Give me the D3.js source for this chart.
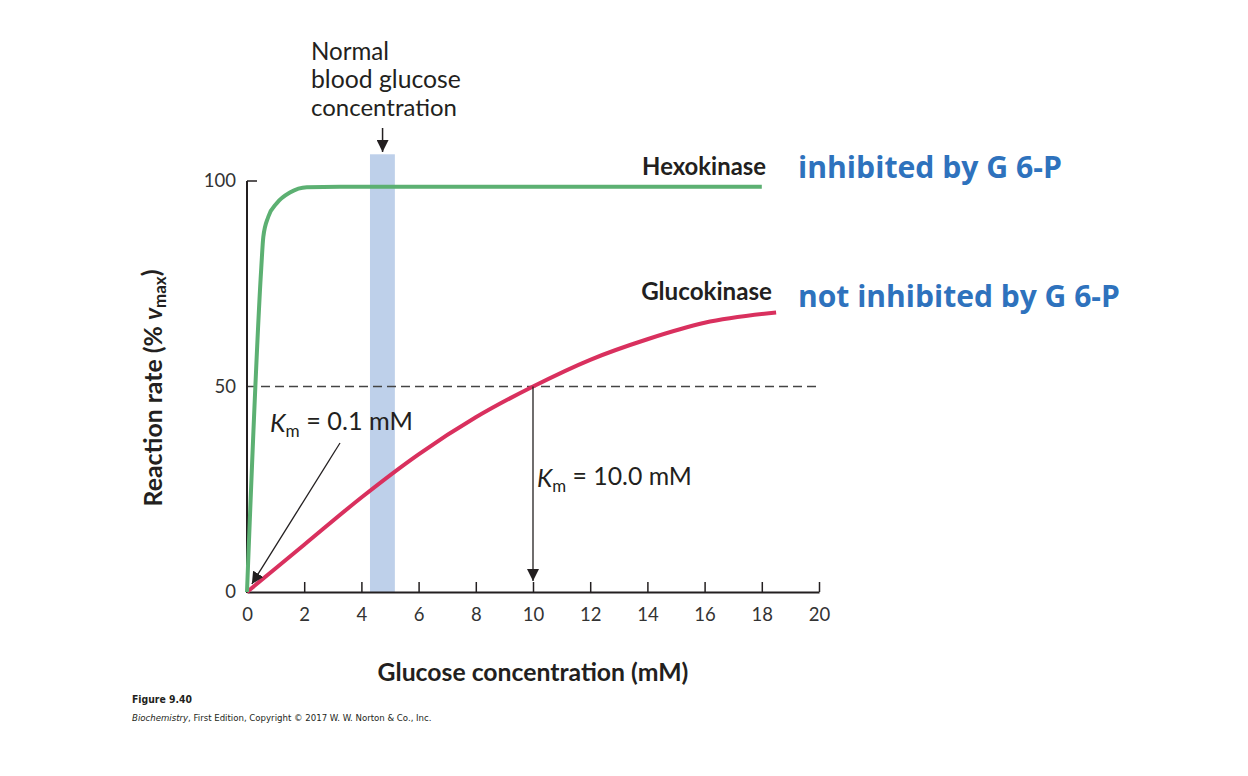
<!DOCTYPE html>
<html><head><meta charset="utf-8">
<script src="https://cdn.jsdelivr.net/npm/d3@7"></script>
<style>body{margin:0;background:#fff}svg{display:block;font-family:Lato,"Noto Sans",sans-serif}</style>
</head><body>
<svg id="c" width="1248" height="776"></svg>
<script>
const xTicks = [0,2,4,6,8,10,12,14,16,18,20];
const yTicks = [0,50,100];
const hexoX = [0,0.5,0.57,0.745,1.04,1.5,2.09,3.25,10,18];
const hexoY = [0,79,86.4,91.3,94.6,97.2,98.5,98.6,98.6,98.6];
const glucoX = [0,2,4,6,8,10,12,14,16,18.5];
const glucoY = [0,11.5,23,33.5,42.5,50,56.5,61.5,65.5,68];
const bandRange = [4.3,5.17];
const bandTop = 106.5;
const halfMax = 50;
const kmHexo = 0.1, kmGluco = 10;

const svg = d3.select("#c");
const x = d3.scaleLinear().domain([0,20]).range([247,819]);
const y = d3.scaleLinear().domain([0,100]).range([592,181]);
const ink = "#231f20";

function fitText(sel, w){ const l = sel.node().getComputedTextLength(); const fs=+sel.attr("font-size"); sel.attr("font-size", fs*w/l); return sel; }

const defs = svg.append("defs");
defs.append("marker").attr("id","ah").attr("viewBox","0 0 10 10").attr("refX",10).attr("refY",5)
  .attr("markerWidth",12).attr("markerHeight",12).attr("markerUnits","userSpaceOnUse").attr("orient","auto")
  .append("path").attr("d","M0,0L10,5L0,10Z").attr("fill",ink);

// band
svg.append("rect").attr("x",x(bandRange[0])).attr("y",y(bandTop))
  .attr("width",x(bandRange[1])-x(bandRange[0])).attr("height",y(0)-y(bandTop)).attr("fill","#bed0ea");

// dashed line
svg.append("line").attr("x1",x(0)).attr("x2",x(20)).attr("y1",y(halfMax)).attr("y2",y(halfMax))
  .attr("stroke","#444").attr("stroke-width",1.3).attr("stroke-dasharray","9,5");

// axes
const gx = svg.append("g").attr("transform",`translate(0,${y(0)})`)
  .call(d3.axisBottom(x).tickValues(xTicks).tickSize(-10).tickPadding(16).tickSizeOuter(0));
gx.attr("font-family",null).attr("font-size",null);
gx.select(".domain").attr("stroke",ink).attr("stroke-width",2);
gx.selectAll(".tick line").attr("stroke",ink).attr("stroke-width",1.5);
gx.selectAll(".tick text").attr("font-size",18.5).attr("fill","#333");

svg.append("line").attr("x1",x(0)).attr("x2",x(0)).attr("y1",y(0)+1).attr("y2",y(100)).attr("stroke",ink).attr("stroke-width",2);
svg.append("line").attr("x1",x(0)).attr("x2",x(0)+10).attr("y1",y(100)).attr("y2",y(100)).attr("stroke",ink).attr("stroke-width",1.5);
svg.selectAll(".ylab").data(yTicks).enter().append("text").attr("x",236).attr("y",d=>y(d)).attr("dy","0.35em")
  .attr("text-anchor","end").attr("font-size",18.5).attr("fill","#333").text(d=>d);

// curves
const line = d3.line().x(d=>x(d[0])).y(d=>y(d[1])).curve(d3.curveMonotoneX);
svg.append("path").datum(d3.zip(glucoX,glucoY)).attr("d",line).attr("fill","none").attr("stroke","#d9305e").attr("stroke-width",4);
svg.append("path").datum(d3.zip(hexoX,hexoY)).attr("d",line).attr("fill","none").attr("stroke","#5cb072").attr("stroke-width",4);

// Km arrows
svg.append("line").attr("x1",x(kmGluco)).attr("x2",x(kmGluco)).attr("y1",y(halfMax)).attr("y2",y(0)-11)
  .attr("stroke",ink).attr("stroke-width",1.3).attr("marker-end","url(#ah)");
svg.append("line").attr("x1",340).attr("x2",x(kmHexo)+2).attr("y1",443).attr("y2",y(0)-8)
  .attr("stroke",ink).attr("stroke-width",1.3).attr("marker-end","url(#ah)");
svg.append("line").attr("x1",x(4.74)).attr("x2",x(4.74)).attr("y1",128).attr("y2",152)
  .attr("stroke",ink).attr("stroke-width",1.5).attr("marker-end","url(#ah)");

function km(xp, yp, val, w){
  const t = svg.append("text").attr("x",xp).attr("y",yp).attr("font-size",22).attr("fill",ink);
  t.append("tspan").attr("font-style","italic").text("K");
  t.append("tspan").attr("font-size","0.68em").attr("dy","0.28em").text("m");
  t.append("tspan").attr("dy","-0.28em").text(" = " + val + " mM");
  fitText(t,w);
}
km(270,432,"0.1",143);
km(537,487,"10.0",155);

// annotation
[["Normal",78],["blood glucose",150],["concentration",146]].forEach((s,i)=>
  fitText(svg.append("text").attr("x",311).attr("y",60+i*28).attr("font-size",22).attr("fill",ink).text(s[0]), s[1]));

// series labels
fitText(svg.append("text").attr("x",766).attr("y",175).attr("text-anchor","end").attr("font-size",19).attr("font-weight",700).attr("fill",ink).text("Hexokinase"),124);
fitText(svg.append("text").attr("x",772).attr("y",300).attr("text-anchor","end").attr("font-size",19).attr("font-weight",700).attr("fill",ink).text("Glucokinase"),131);

const b1 = svg.append("text").attr("x",798).attr("y",178).attr("font-size",28).attr("font-weight",700).attr("fill","#2e72bd").attr("font-family","'Open Sans'").text("inhibited by G 6-P");
fitText(b1,264);
const b2 = svg.append("text").attr("x",798).attr("y",307).attr("font-size",28).attr("font-weight",700).attr("fill","#2e72bd").attr("font-family","'Open Sans'").text("not inhibited by G 6-P");
fitText(b2,322);

// axis titles
fitText(svg.append("text").attr("x",533).attr("y",681).attr("text-anchor","middle").attr("font-size",21).attr("font-weight",700).attr("fill",ink).text("Glucose concentration (mM)"),311);
const yt = svg.append("text").attr("transform","translate(162,388) rotate(-90)").attr("text-anchor","middle").attr("font-size",21).attr("font-weight",700).attr("fill",ink);
yt.append("tspan").text("Reaction rate (% ");
yt.append("tspan").attr("font-style","italic").text("v");
yt.append("tspan").attr("font-size","0.68em").attr("dy","0.25em").text("max");
yt.append("tspan").attr("dy","-0.25em").text(")");
fitText(yt,237);

// caption
fitText(svg.append("text").attr("x",132).attr("y",703).attr("font-size",13).attr("font-weight",700).attr("fill",ink).attr("font-family","'DejaVu Sans Condensed','DejaVu Sans'").text("Figure 9.40"),60);
const f2 = svg.append("text").attr("x",132).attr("y",721).attr("font-size",11).attr("fill",ink).attr("font-family","'DejaVu Sans Condensed','DejaVu Sans'");
f2.append("tspan").attr("font-style","italic").text("Biochemistry");
f2.append("tspan").text(", First Edition, Copyright © 2017 W. W. Norton & Co., Inc.");
fitText(f2,300);
</script>
</body></html>
